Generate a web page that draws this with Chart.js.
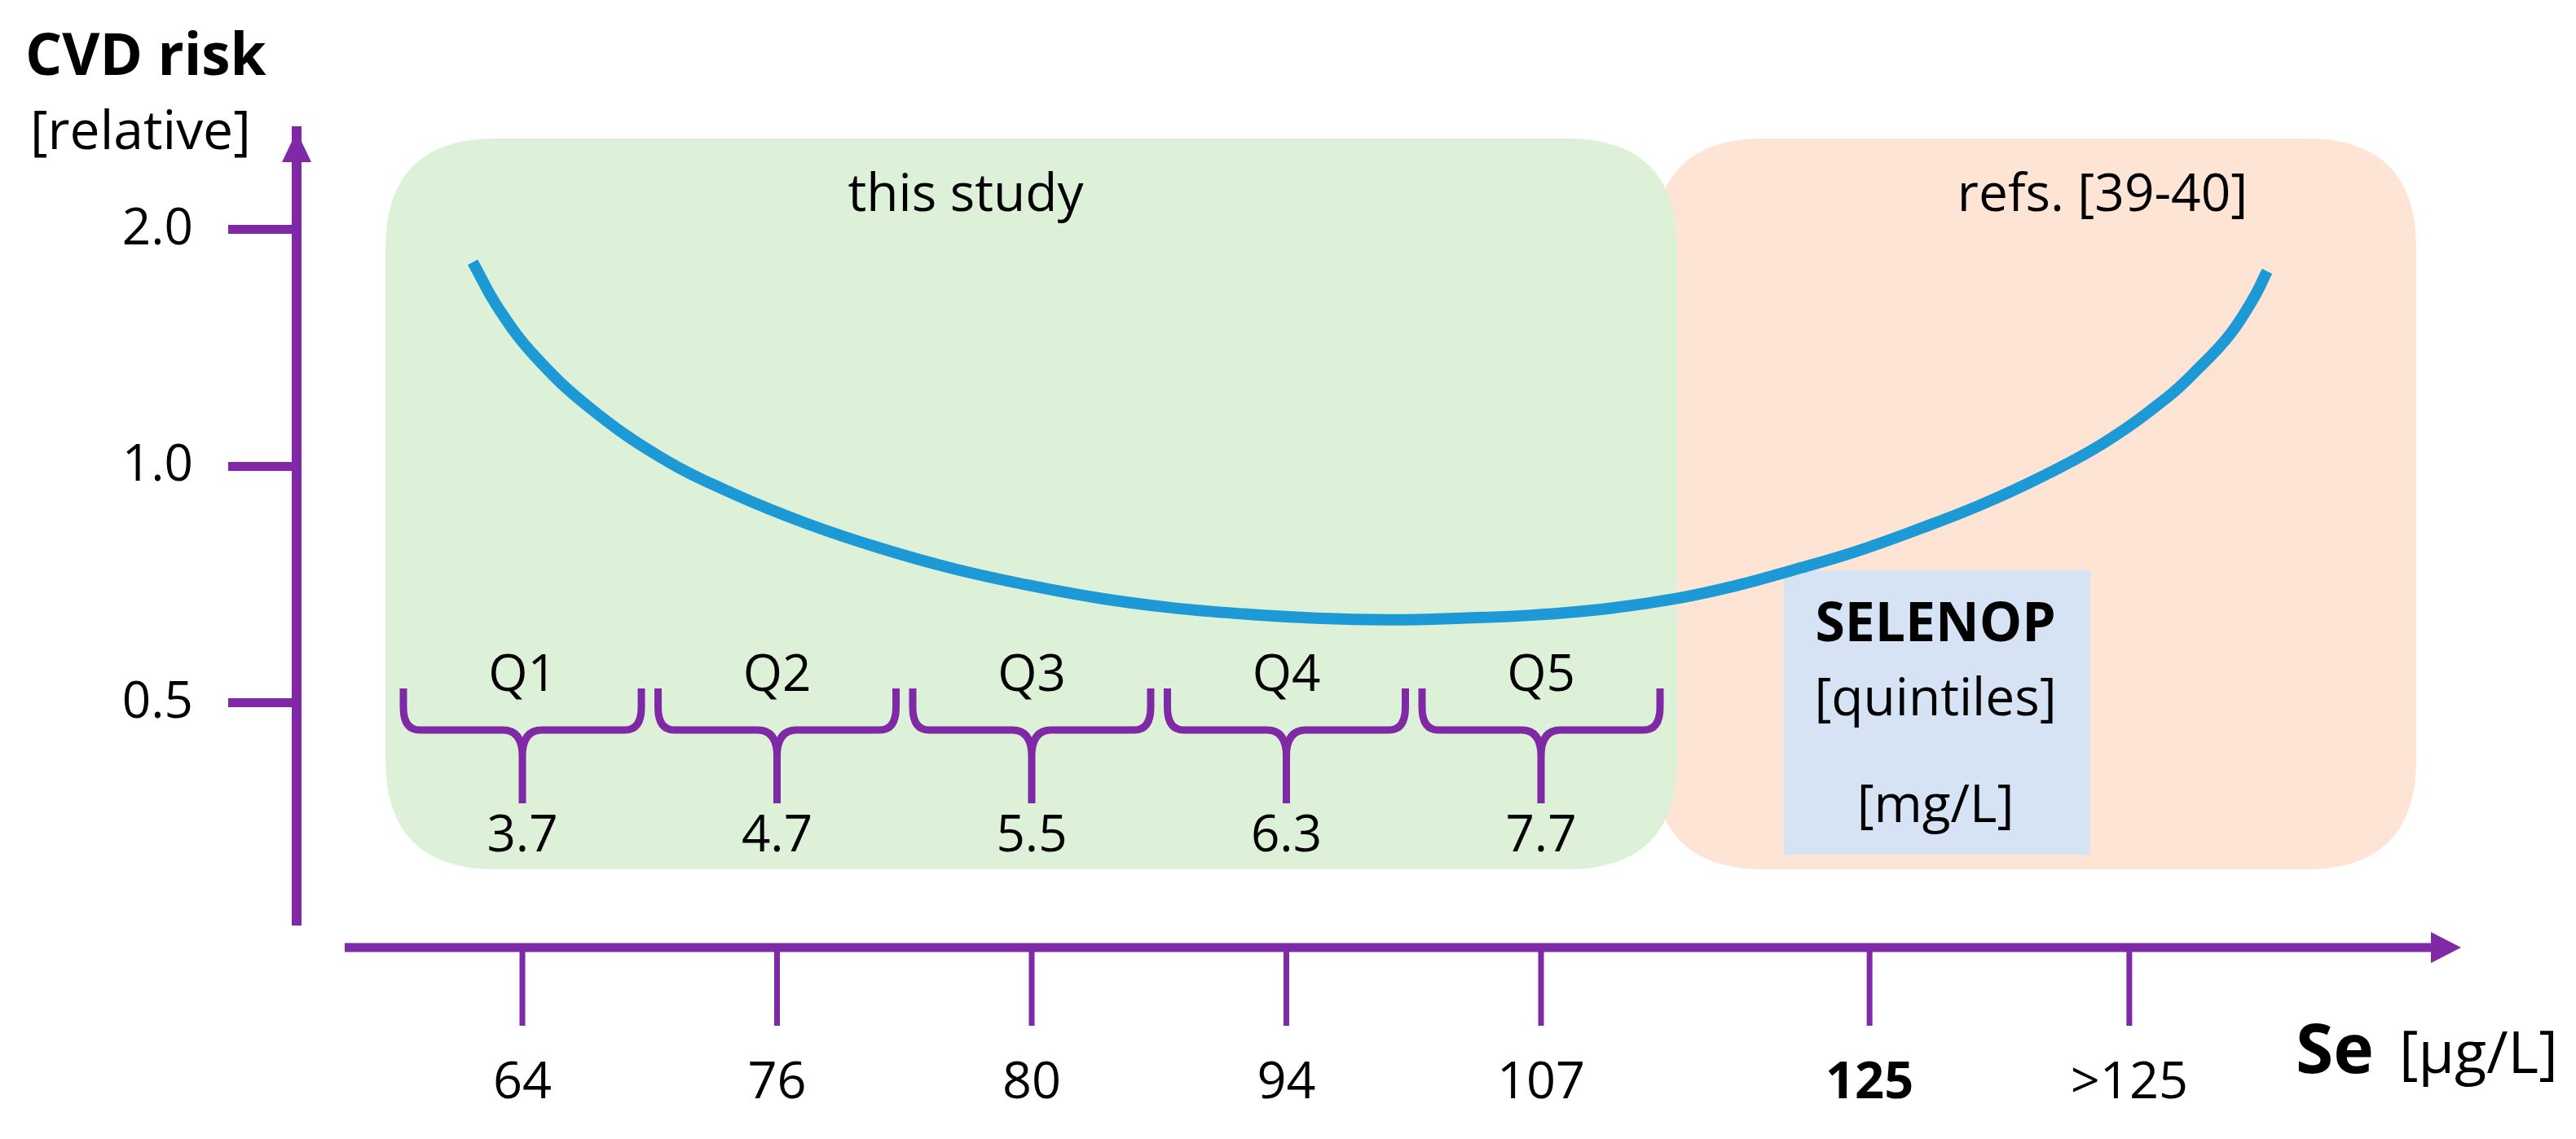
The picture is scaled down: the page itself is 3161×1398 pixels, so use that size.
<!DOCTYPE html>
<html>
<head>
<meta charset="utf-8">
<script src="https://cdn.jsdelivr.net/npm/chart.js@4/dist/chart.umd.min.js"></script>
<style>
  html, body { margin: 0; padding: 0; background: #fff; }
  #wrap { width: 3161px; height: 1398px; }
</style>
</head>
<body>
<div id="wrap"><canvas id="chart" width="3161" height="1398"></canvas></div>
<script>
// Se axis: quintile medians sit at 1..5, the two upper marks further to the right
const seTicks = [1, 2, 3, 4, 5, 6.29, 7.31];
const seLabels = ['64', '76', '80', '94', '107', '125', '>125'];
const seBoldLabel = '125';
const riskTicks = [0.5, 1.0, 2.0];

const quintiles = ['Q1', 'Q2', 'Q3', 'Q4', 'Q5'];
const selenopMedians = ['3.7', '4.7', '5.5', '6.3', '7.7'];

// U-shaped relative CVD risk curve (position on Se axis, relative risk)
const curveX = [0.805, 0.907, 1.048, 1.262, 1.547, 1.835, 2.120, 2.405, 2.693, 2.978,
  3.262, 3.547, 3.832, 4.117, 4.402, 4.686, 4.971, 5.256, 5.541, 5.765,
  5.989, 6.235, 6.478, 6.725, 6.968, 7.214, 7.458, 7.579, 7.704, 7.800, 7.851];
const curveRisk = [1.818, 1.587, 1.382, 1.189, 1.025, 0.921, 0.845, 0.787, 0.741, 0.707,
  0.680, 0.661, 0.649, 0.641, 0.638, 0.641, 0.647, 0.659, 0.680, 0.705,
  0.738, 0.779, 0.831, 0.893, 0.971, 1.073, 1.223, 1.330, 1.470, 1.641, 1.771];

const purple = '#8029a6';
const curveBlue = '#1d9ad6';

Chart.defaults.font.family = "'Open Sans', sans-serif";
Chart.defaults.color = '#000';

function roundBox(ctx, x, y, w, h, r, fill) {
  ctx.beginPath();
  ctx.moveTo(x + r, y);
  ctx.lineTo(x + w - r, y);
  ctx.quadraticCurveTo(x + w, y, x + w, y + r);
  ctx.lineTo(x + w, y + h - r);
  ctx.quadraticCurveTo(x + w, y + h, x + w - r, y + h);
  ctx.lineTo(x + r, y + h);
  ctx.quadraticCurveTo(x, y + h, x, y + h - r);
  ctx.lineTo(x, y + r);
  ctx.quadraticCurveTo(x, y, x + r, y);
  ctx.closePath();
  ctx.fillStyle = fill;
  ctx.fill();
}

function text(ctx, str, x, y, size, weight, align) {
  ctx.font = (weight || 'normal') + ' ' + size + "px 'Open Sans', sans-serif";
  ctx.textAlign = align || 'center';
  ctx.textBaseline = 'alphabetic';
  ctx.fillStyle = '#000';
  ctx.fillText(str, x, y);
}

function brace(ctx, cx, half, top, bar, tail) {
  const r = 20, c = 24;
  ctx.beginPath();
  [-1, 1].forEach(function(s) {
    const ex = cx + s * half;
    ctx.moveTo(ex, top);
    ctx.lineTo(ex, bar - r - 8);
    ctx.quadraticCurveTo(ex, bar, ex - s * r, bar);
    ctx.lineTo(cx + s * c, bar);
    ctx.quadraticCurveTo(cx, bar, cx, bar + c + 8);
  });
  ctx.lineTo(cx, tail);
  ctx.strokeStyle = purple;
  ctx.lineWidth = 9;
  ctx.lineCap = 'butt';
  ctx.lineJoin = 'round';
  ctx.stroke();
}

const schemePlugin = {
  id: 'scheme',
  beforeDatasetsDraw(chart) {
    const ctx = chart.ctx;
    const xs = chart.scales.x;
    ctx.save();
    // shaded study areas
    roundBox(ctx, 2029, 170, 936, 897, 135, '#fde4d5');
    roundBox(ctx, 473, 170, 1585, 897, 135, '#ddf0d8');
    ctx.fillStyle = '#d6e3f4';
    ctx.fillRect(2189, 700, 376, 349);

    text(ctx, 'this study', 1185, 259, 64);
    text(ctx, 'refs. [39-40]', 2580, 259, 64);
    text(ctx, 'SELENOP', 2375, 787, 66, 'bold');
    text(ctx, '[quintiles]', 2375, 878, 64);
    text(ctx, '[mg/L]', 2375, 1009, 64);

    // quintile braces
    quintiles.forEach(function(q, i) {
      const cx = xs.getPixelForValue(seTicks[i]);
      text(ctx, q, cx, 848, 62);
      brace(ctx, cx, 146, 845, 896, 986);
      text(ctx, selenopMedians[i], cx, 1045, 62);
    });
    ctx.restore();
  },
  afterDraw(chart) {
    const ctx = chart.ctx;
    const area = chart.chartArea;
    const xs = chart.scales.x;
    ctx.save();
    ctx.fillStyle = purple;
    ctx.strokeStyle = purple;

    // y arrow head
    ctx.beginPath();
    ctx.moveTo(area.left, area.top);
    ctx.lineTo(area.left - 18, area.top + 38);
    ctx.lineTo(area.left + 18, area.top + 38);
    ctx.closePath();
    ctx.fill();

    // x axis with arrow
    const ay = area.bottom + 28;
    ctx.lineWidth = 11;
    ctx.beginPath();
    ctx.moveTo(area.left + 59, ay);
    ctx.lineTo(area.right - 30, ay);
    ctx.stroke();
    ctx.beginPath();
    ctx.moveTo(area.right, ay);
    ctx.lineTo(area.right - 37, ay - 19);
    ctx.lineTo(area.right - 37, ay + 19);
    ctx.closePath();
    ctx.fill();

    ctx.lineWidth = 7;
    seTicks.forEach(function(v) {
      const px = xs.getPixelForValue(v);
      ctx.beginPath();
      ctx.moveTo(px, ay);
      ctx.lineTo(px, ay + 96);
      ctx.stroke();
    });

    // axis titles
    text(ctx, 'CVD risk', 31, 92, 71, 'bold', 'left');
    text(ctx, '[relative]', 37, 183, 66, 'normal', 'left');
    text(ctx, 'Se', 2817, 1317, 84, 'bold', 'left');
    text(ctx, '[µg/L]', 2944, 1317, 72, 'normal', 'left');
    ctx.restore();
  }
};

new Chart(document.getElementById('chart'), {
  type: 'line',
  data: {
    datasets: [{
      data: curveX.map(function(x, i) { return { x: x, y: curveRisk[i] }; }),
      borderColor: curveBlue,
      borderWidth: 14,
      borderCapStyle: 'butt',
      pointRadius: 0,
      fill: false,
      tension: 0.4
    }]
  },
  options: {
    responsive: false,
    devicePixelRatio: 1,
    animation: false,
    layout: { padding: { top: 161, right: 141, left: 0, bottom: 0 } },
    plugins: { legend: { display: false }, tooltip: { enabled: false } },
    scales: {
      x: {
        type: 'linear',
        min: 0.1136,
        max: 8.6128,
        bounds: 'data',
        grid: { display: false, drawTicks: false },
        border: { display: false },
        afterBuildTicks: function(scale) {
          scale.ticks = seTicks.map(function(v) { return { value: v }; });
        },
        afterFit: function(scale) { scale.height = 263; },
        ticks: {
          padding: 157,
          maxRotation: 0,
          autoSkip: false,
          callback: function(v, i) { return seLabels[i]; },
          font: function(c) {
            const bold = c.tick && seLabels[c.index] === seBoldLabel;
            return { size: 63, weight: bold ? 'bold' : 'normal' };
          }
        }
      },
      y: {
        type: 'logarithmic',
        min: 0.2612,
        max: 2.669,
        bounds: 'data',
        grid: {
          display: true,
          drawOnChartArea: false,
          drawTicks: true,
          tickLength: 84,
          tickWidth: 11,
          tickColor: purple
        },
        border: { display: true, color: purple, width: 12 },
        afterBuildTicks: function(scale) {
          scale.ticks = riskTicks.map(function(v) { return { value: v }; });
        },
        afterFit: function(scale) { scale.width = 364; },
        ticks: {
          padding: 43,
          autoSkip: false,
          font: { size: 62 },
          callback: function(v) { return Number(v).toFixed(1); }
        }
      }
    }
  },
  plugins: [schemePlugin]
});
</script>
</body>
</html>
